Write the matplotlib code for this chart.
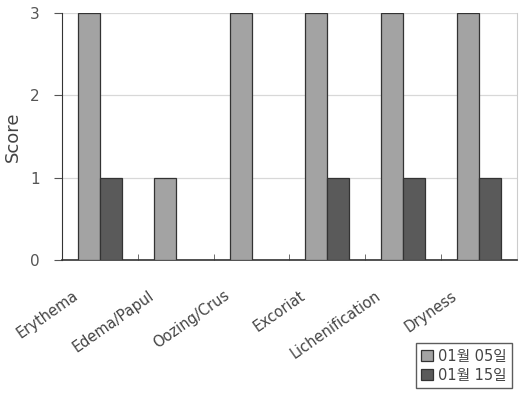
import numpy as np
import matplotlib
matplotlib.use("Agg")
import matplotlib.pyplot as plt
import matplotlib.transforms as mtransforms

plt.rcParams['font.family'] = ['DejaVu Sans', 'Noto Sans CJK KR']

# data
categories = ['Erythema', 'Edema/Papul', 'Oozing/Crus', 'Excoriat', 'Lichenification', 'Dryness']
day05 = [3, 1, 3, 3, 3, 3]
day15 = [1, 0, 0, 1, 1, 1]
series_labels = ['01월 05일', '01월 15일']

fig = plt.figure(figsize=(5.21, 3.96), dpi=100)
ax = fig.add_axes([0.119, 0.343, 0.873, 0.624])

x = np.arange(len(categories))
w = 0.29
b1 = ax.bar(x - w / 2, day05, w, color='#a3a3a3', edgecolor='#333333', linewidth=0.9, label=series_labels[0], zorder=3)
b2 = ax.bar(x + w / 2, day15, w, color='#5a5a5a', edgecolor='#333333', linewidth=0.9, label=series_labels[1], zorder=3)
# zero-height bars are not drawn in the original
for p in list(b1) + list(b2):
    if p.get_height() == 0:
        p.set_visible(False)

ax.set_xlim(-0.5, len(categories) - 0.5)
ax.set_ylim(0, 3)
ax.set_yticks([0, 1, 2, 3])
ax.grid(axis='y', color='#d8d8d8', linewidth=0.9, zorder=0)
ax.tick_params(axis='y', direction='out', length=6, color='#555555', labelcolor='#555555', labelsize=11, pad=10)

# category boundaries as minor ticks, labels on major ticks (no tick line)
ax.set_xticks(x)
ax.set_xticks(np.arange(0.5, len(categories) - 0.5, 1), minor=True)
ax.tick_params(axis='x', which='major', length=0, pad=20)
ax.tick_params(axis='x', which='minor', direction='in', length=4, color='#555555')
ax.set_xticklabels(categories, rotation=35, ha='right', va='top', rotation_mode='anchor',
                   fontsize=10.5, color='#444444')
offset = mtransforms.ScaledTranslation(-28 / 100, 0, fig.dpi_scale_trans)
for lbl in ax.get_xticklabels():
    lbl.set_transform(lbl.get_transform() + offset)

ax.spines['left'].set_color('#333333')
ax.spines['bottom'].set_color('#333333')
ax.spines['bottom'].set_linewidth(1.2)
ax.spines['top'].set_visible(False)
ax.spines['right'].set_color('#cccccc')

ax.set_ylabel('Score', fontsize=13, color='#444444')
ax.yaxis.set_label_coords(-0.088, 0.5)

leg = fig.legend(loc='lower right', bbox_to_anchor=(0.983, 0.02), borderaxespad=0,
                 fontsize=10.5, frameon=True, fancybox=False, edgecolor='#333333',
                 handlelength=0.8, handleheight=0.8, handletextpad=0.4,
                 borderpad=0.35, labelspacing=0.3)
leg.get_frame().set_linewidth(1.0)
for t in leg.get_texts():
    t.set_color('#444444')

fig.savefig('out.png', dpi=100)
